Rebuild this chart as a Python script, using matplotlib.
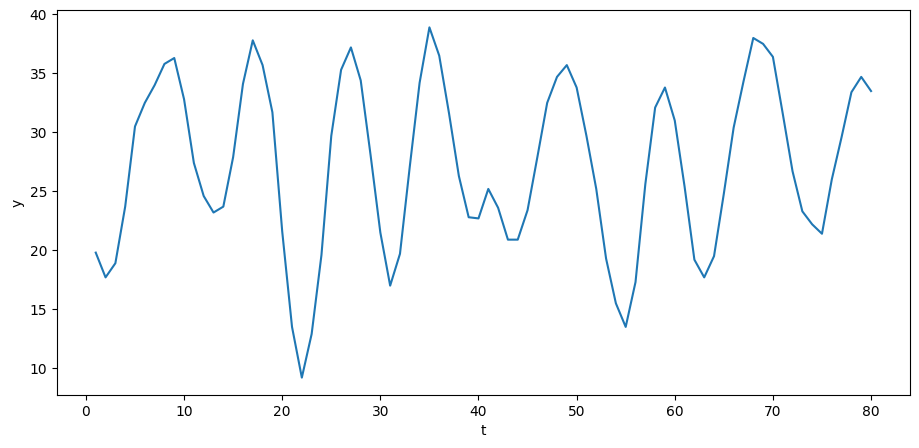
import matplotlib
matplotlib.use("Agg")
import matplotlib.pyplot as plt

t = list(range(1, 81))
y = [19.8, 17.7, 18.9, 23.7, 30.5, 32.5, 34.0, 35.8, 36.3, 32.8,
     27.4, 24.6, 23.2, 23.7, 27.9, 34.1, 37.8, 35.7, 31.7, 21.6,
     13.5, 9.2, 12.9, 19.6, 29.7, 35.3, 37.2, 34.4, 28.1, 21.5,
     17.0, 19.7, 27.1, 34.2, 38.9, 36.5, 31.6, 26.3, 22.8, 22.7,
     25.2, 23.6, 20.9, 20.9, 23.4, 27.9, 32.5, 34.7, 35.7, 33.8,
     29.7, 25.2, 19.3, 15.5, 13.5, 17.3, 25.6, 32.1, 33.8, 31.0,
     25.4, 19.2, 17.7, 19.5, 24.8, 30.4, 34.3, 38.0, 37.5, 36.4,
     31.6, 26.7, 23.3, 22.2, 21.4, 26.0, 29.6, 33.4, 34.7, 33.5]

fig = plt.figure(figsize=(9.19, 4.48), dpi=100)
ax = fig.add_axes([0.062, 0.118, 0.928, 0.860])
ax.plot(t, y, color="#1f77b4", linewidth=1.5)
ax.set_xlabel("t")
ax.set_ylabel("y")
fig.savefig("out.png", dpi=100)
